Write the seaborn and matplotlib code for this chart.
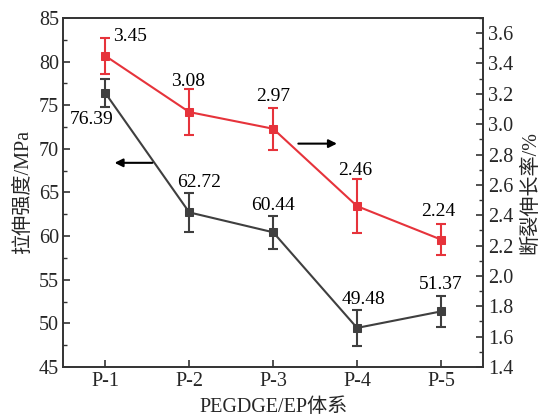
import matplotlib
matplotlib.use("Agg")
import matplotlib.pyplot as plt
from matplotlib.ticker import MultipleLocator, FormatStrFormatter
import seaborn as sns
import pandas as pd

# Samples and measured properties
samples = ["P-1", "P-2", "P-3", "P-4", "P-5"]
tensile_strength = [76.39, 62.72, 60.44, 49.48, 51.37]      # MPa
tensile_err = [1.6, 2.2, 1.9, 2.1, 1.75]
elongation = [3.45, 3.08, 2.97, 2.46, 2.24]                # %
elongation_err = [0.12, 0.15, 0.14, 0.18, 0.10]

sns.set_style("ticks")
plt.rcParams["font.family"] = ["Liberation Serif", "Noto Sans CJK SC"]

GRAY = "#3f3f3f"
RED = "#e6333b"

df = pd.DataFrame({
    "x": range(len(samples)),
    "strength": tensile_strength,
    "elong": elongation,
})

fig = plt.figure(figsize=(5.42, 4.18), dpi=100)
ax = fig.add_axes([0.117, 0.122, 0.774, 0.835])
ax2 = ax.twinx()

# Tensile strength (left axis)
sns.lineplot(data=df, x="x", y="strength", ax=ax, color=GRAY, marker="s",
             markersize=6, markeredgecolor=GRAY, linewidth=1.5, zorder=3)
ax.errorbar(df["x"], df["strength"], yerr=tensile_err, fmt="none",
            ecolor=GRAY, elinewidth=1.5, capsize=3.5, capthick=1.5, zorder=3)

# Elongation at break (right axis)
sns.lineplot(data=df, x="x", y="elong", ax=ax2, color=RED, marker="s",
             markersize=6, markeredgecolor=RED, linewidth=1.5, zorder=3)
ax2.errorbar(df["x"], df["elong"], yerr=elongation_err, fmt="none",
             ecolor=RED, elinewidth=1.5, capsize=3.5, capthick=1.5, zorder=3)

ax.set_xlim(-0.5, 4.5)
ax.set_ylim(45, 85)
ax2.set_ylim(1.4, 3.7)
ax.set_xticks(range(len(samples)))
ax.set_xticklabels(samples)
ax.yaxis.set_major_locator(MultipleLocator(5))
ax.yaxis.set_minor_locator(MultipleLocator(2.5))
ax2.yaxis.set_major_locator(MultipleLocator(0.2))
ax2.yaxis.set_minor_locator(MultipleLocator(0.1))
ax2.yaxis.set_major_formatter(FormatStrFormatter("%.1f"))

for a in (ax, ax2):
    a.tick_params(axis="both", which="major", direction="in", length=5,
                  width=1.2, labelsize=14.5, color="#333333")
    a.tick_params(axis="both", which="minor", direction="in", length=3,
                  width=1.0, color="#333333")
    for s in a.spines.values():
        s.set_linewidth(1.2)
        s.set_color("#333333")
ax.tick_params(axis="x", which="minor", bottom=False)
ax.tick_params(axis="y", which="major", pad=3)

ax.set_xlabel("PEGDGE/EP体系", fontsize=14.5, labelpad=5)
ax.set_ylabel("拉伸强度/MPa", fontsize=14.5, labelpad=4)
ax2.set_ylabel("断裂伸长率/%", fontsize=14.5, labelpad=6, rotation=90)

# Value labels
strength_offsets = [(-14, -26), (10, 30), (0, 27), (6, 28), (0, 27)]
for i, (v, off) in enumerate(zip(tensile_strength, strength_offsets)):
    ax.annotate(f"{v:.2f}", (i, v), xytext=off, textcoords="offset pixels",
                ha="center", va="center", fontsize=14, color="black")
elong_offsets = [(25, 19), (-1, 31), (0, 32), (-2, 36), (-3, 28)]
for i, (v, off) in enumerate(zip(elongation, elong_offsets)):
    ax2.annotate(f"{v:.2f}", (i, v), xytext=off, textcoords="offset pixels",
                 ha="center", va="center", fontsize=14, color="black")

# Arrows pointing to the axis of each series
ax.annotate("", xy=(0.11, 68.4), xytext=(0.56, 68.4),
            arrowprops=dict(arrowstyle="-|>", color="black", lw=1.5,
                            mutation_scale=12, shrinkA=0, shrinkB=0))
ax.annotate("", xy=(2.76, 70.6), xytext=(2.30, 70.6),
            arrowprops=dict(arrowstyle="-|>", color="black", lw=1.5,
                            mutation_scale=12, shrinkA=0, shrinkB=0))

fig.savefig("out.png", dpi=100)
